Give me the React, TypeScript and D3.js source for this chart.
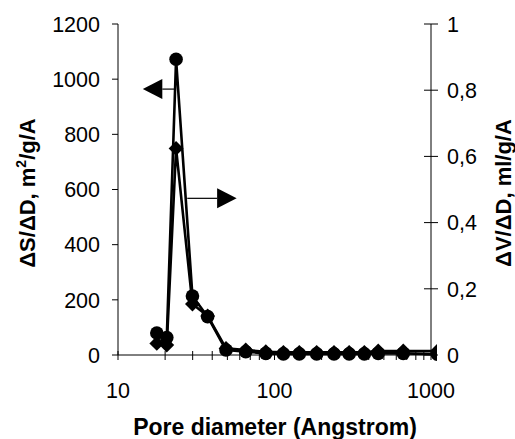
import React from "react";
import * as d3 from "d3";

// ---- data ----
const poreDiameter = [17.7, 20.5, 23.5, 29.9, 37.4, 49, 65.5, 88, 114, 144, 186, 240, 300, 375, 460, 665, 1100];
const surfaceArea = [80, 63, 1072, 214, 139, 18, 12, 6, 4, 4, 4, 4, 4, 4, 6, 6, 3];
const poreVolume = [0.035, 0.03, 0.624, 0.154, 0.118, 0.02, 0.015, 0.01, 0.008, 0.008, 0.008, 0.008, 0.008, 0.008, 0.012, 0.012, 0.012];

const leftTicks = [0, 200, 400, 600, 800, 1000, 1200];
const rightTicks = [0, 0.2, 0.4, 0.6, 0.8, 1];
const xMajorTicks = [10, 100, 1000];
const xMinorTicks = [20, 30, 40, 50, 60, 70, 80, 90, 200, 300, 400, 500, 600, 700, 800, 900];

// annotation arrows in data space: [fromX, toX, leftAxisValue]
const arrowLeft = { fromX: 22.8, toX: 14.4, y: 964 };
const arrowRight = { fromX: 27.7, toX: 57.3, y: 568 };

const W = 515;
const H = 439;
const M = { left: 118, right: 431, top: 24, bottom: 355 };
const FONT = "'Liberation Sans', Arial, sans-serif";

export default function App() {
  const x = d3.scaleLog().domain([10, 1000]).range([M.left, M.right]);
  const yL = d3.scaleLinear().domain([0, 1200]).range([M.bottom, M.top]);
  const yR = d3.scaleLinear().domain([0, 1]).range([M.bottom, M.top]);

  const idx = poreDiameter.map((_, i) => i);
  const lineS = d3
    .line<number>()
    .x((i) => x(poreDiameter[i]))
    .y((i) => yL(surfaceArea[i]));
  const lineV = d3
    .line<number>()
    .x((i) => x(poreDiameter[i]))
    .y((i) => yR(poreVolume[i]));
  const diamond = d3.symbol().type(d3.symbolSquare).size(110)();
  const fmtR = (v: number) => d3.format("~g")(v).replace(".", ",");

  const arrow = (a: { fromX: number; toX: number; y: number }, key: string) => {
    const x0 = x(a.fromX);
    const x1 = x(a.toX);
    const yy = yL(a.y);
    const dir = x1 > x0 ? 1 : -1;
    const headLen = 19.5;
    const base = x1 - dir * headLen;
    return (
      <g key={key}>
        <line x1={x0} x2={base} y1={yy} y2={yy} stroke="#000" strokeWidth={1.2} />
        <path d={`M${x1},${yy} L${base},${yy - 10} L${base},${yy + 10} Z`} fill="#000" />
      </g>
    );
  };

  return (
    <svg
      width={W}
      height={H}
      style={{ position: "absolute", left: 0, top: 0, background: "#fff" }}
      fontFamily={FONT}
    >
      <defs>
        <clipPath id="plotclip">
          <rect x={M.left - 10} y={0} width={M.right + 6 - (M.left - 10)} height={H} />
        </clipPath>
      </defs>
      <rect x={0} y={0} width={W} height={H} fill="#fff" />

      {/* axes lines */}
      <line x1={M.left} x2={M.left} y1={M.top} y2={M.bottom} stroke="#000" strokeWidth={1} />
      <line x1={M.right} x2={M.right} y1={M.top} y2={M.bottom} stroke="#000" strokeWidth={1} />
      <line x1={M.left} x2={M.right} y1={M.bottom} y2={M.bottom} stroke="#000" strokeWidth={1} />

      {/* left ticks */}
      {leftTicks.map((t) => (
        <g key={"l" + t}>
          <line x1={M.left - 6} x2={M.left} y1={yL(t)} y2={yL(t)} stroke="#000" />
          <text x={100} y={yL(t)} dy="0.36em" textAnchor="end" fontSize={21.5}>
            {t}
          </text>
        </g>
      ))}

      {/* right ticks */}
      {rightTicks.map((t) => (
        <g key={"r" + t}>
          <line x1={M.right - 7} x2={M.right + 7} y1={yR(t)} y2={yR(t)} stroke="#000" />
          <text x={447} y={yR(t)} dy="0.36em" textAnchor="start" fontSize={21.5}>
            {fmtR(t)}
          </text>
        </g>
      ))}

      {/* x ticks */}
      {[...xMajorTicks, ...xMinorTicks].map((t) => (
        <line key={"x" + t} x1={x(t)} x2={x(t)} y1={M.bottom - 4} y2={M.bottom + 5} stroke="#000" />
      ))}
      {xMajorTicks.map((t) => (
        <text key={"xl" + t} x={x(t)} y={398} textAnchor="middle" fontSize={21.5}>
          {t}
        </text>
      ))}

      {/* series */}
      <g clipPath="url(#plotclip)">
        <path d={lineS(idx) || ""} fill="none" stroke="#000" strokeWidth={2.6} strokeLinejoin="round" />
        <path d={lineV(idx) || ""} fill="none" stroke="#000" strokeWidth={2.6} strokeLinejoin="round" />
        {idx.map((i) => (
          <circle key={"c" + i} cx={x(poreDiameter[i])} cy={yL(surfaceArea[i])} r={6.8} fill="#000" />
        ))}
        {idx.map((i) => (
          <path
            key={"d" + i}
            d={diamond || ""}
            transform={`translate(${x(poreDiameter[i])},${yR(poreVolume[i])}) rotate(45)`}
            fill="#000"
          />
        ))}
      </g>

      {/* annotation arrows */}
      {arrow(arrowLeft, "al")}
      {arrow(arrowRight, "ar")}

      {/* axis titles */}
      <text x={275} y={435} textAnchor="middle" fontSize={23} fontWeight="bold">
        Pore diameter (Angstrom)
      </text>
      <text
        transform={`translate(35,193) rotate(-90)`}
        textAnchor="middle"
        fontSize={22}
        fontWeight="bold"
      >
        ΔS/ΔD, m<tspan dy={-9} fontSize={14}>2</tspan>
        <tspan dy={9}>/g/A</tspan>
      </text>
      <text
        transform={`translate(511,193) rotate(-90)`}
        textAnchor="middle"
        fontSize={22}
        fontWeight="bold"
      >
        ΔV/ΔD, ml/g/A
      </text>
    </svg>
  );
}
